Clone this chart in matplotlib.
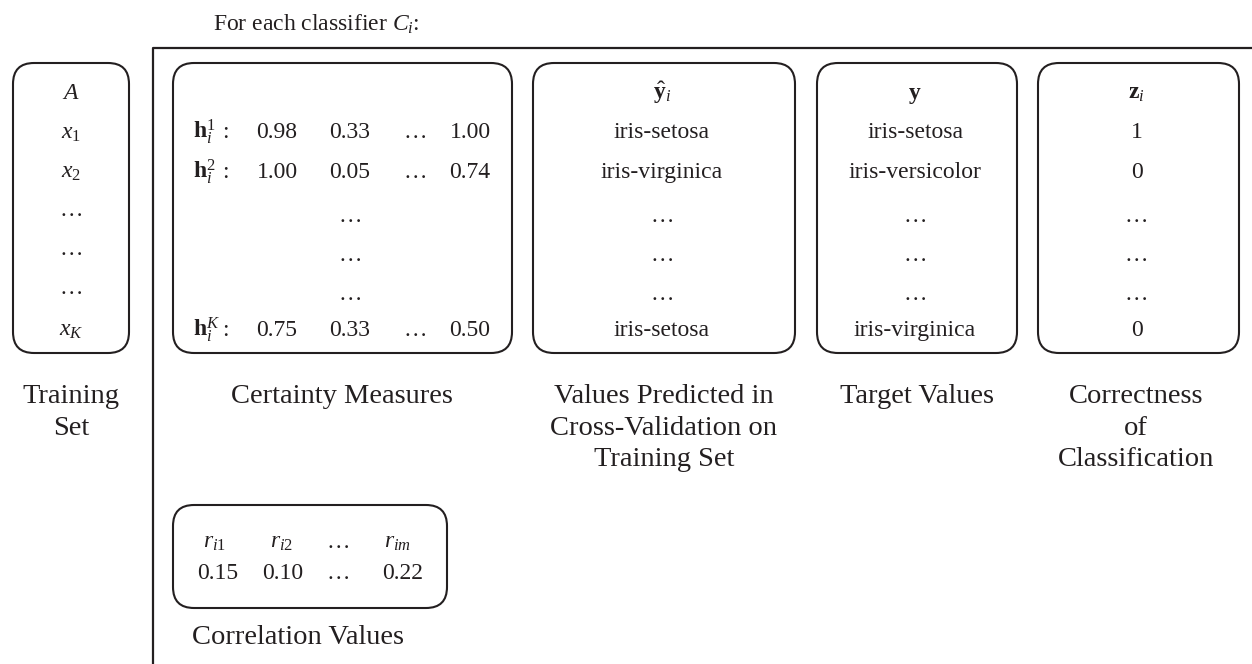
import matplotlib
matplotlib.use("Agg")
import matplotlib.pyplot as plt
from matplotlib.patches import FancyBboxPatch

### STYLE ###
plt.rcParams['font.family'] = ['Liberation Serif', 'DejaVu Serif']
plt.rcParams['mathtext.fontset'] = 'custom'
plt.rcParams['mathtext.rm'] = 'Liberation Serif'
plt.rcParams['mathtext.it'] = 'Liberation Serif:italic'
plt.rcParams['mathtext.bf'] = 'Liberation Serif:bold'

INK = '#231f20'
TABLE_SIZE = 17
LABEL_SIZE = 20.5
TITLE_SIZE = 17

### DATA ###
training_rows = ['$A$', '$x_1$', '$x_2$', '…', '…', '…', '$x_K$']

certainty_names = [r'$\mathbf{h}_i^{1}$', r'$\mathbf{h}_i^{2}$', None, None, None, r'$\mathbf{h}_i^{K}$']
certainty_values = [
    ['0.98', '0.33', '…', '1.00'],
    ['1.00', '0.05', '…', '0.74'],
    None,
    None,
    None,
    ['0.75', '0.33', '…', '0.50'],
]

predicted = [r'$\hat{\mathbf{y}}_i$', 'iris-setosa', 'iris-virginica', '…', '…', '…', 'iris-setosa']
target = [r'$\mathbf{y}$', 'iris-setosa', 'iris-versicolor', '…', '…', '…', 'iris-virginica']
correct = [r'$\mathbf{z}_i$', '1', '0', '…', '…', '…', '0']

corr_names = ['$r_{i1}$', '$r_{i2}$', '…', '$r_{im}$']
corr_values = ['0.15', '0.10', '…', '0.22']

### FIGURE ###
fig = plt.figure(figsize=(12.52, 6.64), dpi=100)
ax = fig.add_axes([0, 0, 1, 1])
ax.set_xlim(0, 1252)
ax.set_ylim(664, 0)
ax.axis('off')


def box(x0, y0, x1, y1):
    ax.add_patch(FancyBboxPatch((x0, y0), x1 - x0, y1 - y0,
                                boxstyle='round,pad=0,rounding_size=21',
                                fill=False, ec=INK, lw=1.5))


def row_base(k):
    # baseline of the k-th row inside the tall boxes
    return 99 + 39.5 * k


def put(x, y, s, ha='center', size=TABLE_SIZE, dots_shift=0):
    if s == '…':
        y = y + dots_shift
    ax.text(x, y, s, ha=ha, va='baseline', fontsize=size, color=INK)


# outer frame (only top and left edge)
ax.plot([153, 153, 1252], [664, 48, 48], color=INK, lw=1.6, solid_capstyle='butt')
ax.text(213, 24, 'For each classifier $C_i$:', ha='left', va='center', fontsize=TITLE_SIZE, color=INK)

# training set
box(13, 63, 129, 353)
for k, s in enumerate(training_rows):
    put(71, row_base(k), s, dots_shift=-2)

# certainty measures
box(173, 63, 512, 353)
value_x = [277, 350, 415, 470]
for k, (name, vals) in enumerate(zip(certainty_names, certainty_values)):
    y = row_base(k + 1)
    if name is None:
        put(350, y, '…', dots_shift=4)
        continue
    put(193, y, name, ha='left')
    put(225, y, ':')
    for x, v in zip(value_x, vals):
        put(x, y, v)

# predicted / target / correctness columns
for (x0, x1), col in zip([(533, 795), (817, 1017), (1038, 1239)], [predicted, target, correct]):
    box(x0, 63, x1, 353)
    for k, s in enumerate(col):
        put((x0 + x1) / 2 - 2, row_base(k), s, dots_shift=4)

# correlation values
box(173, 505, 447, 608)
for x, s in zip([215, 282, 338, 398], corr_names):
    put(x, 548, s)
for x, s in zip([218, 283, 338, 403], corr_values):
    put(x, 579, s)

# captions
captions = [
    (71, 'Training\nSet'),
    (342, 'Certainty Measures'),
    (664, 'Values Predicted in\nCross-Validation on\nTraining Set'),
    (917, 'Target Values'),
    (1136, 'Correctness\nof\nClassification'),
]
for x, s in captions:
    ax.text(x, 384, s, ha='center', va='top', fontsize=LABEL_SIZE, color=INK, linespacing=1.35)
ax.text(298, 625, 'Correlation Values', ha='center', va='top', fontsize=LABEL_SIZE, color=INK)

fig.savefig('out.png', dpi=100)
